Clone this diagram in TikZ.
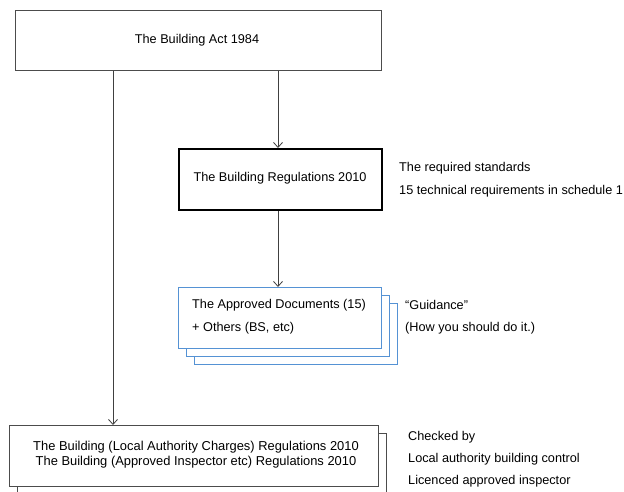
\documentclass[tikz,border=0pt]{standalone}
\usepackage{fontspec}
\setmainfont{Liberation Sans}
\usetikzlibrary{arrows.meta}
\begin{document}
\begin{tikzpicture}[x=1pt,y=-1pt,
  font=\fontsize{12.7}{15}\selectfont,
  box/.style={draw=black!70,line width=0.8pt,fill=white,inner sep=0pt,anchor=north west},
  thickbox/.style={draw=black,line width=2.2pt,fill=white,inner sep=0pt,anchor=north west},
  docbox/.style={draw=cyan!55!blue!70,line width=0.9pt,fill=white,inner sep=0pt,anchor=north west,
    minimum width=203pt,minimum height=61pt},
  note/.style={anchor=west,inner sep=0pt},
  link/.style={draw=black!75,line width=0.8pt,-{Straight Barb[length=5pt,width=9pt]}}]
\clip (0,0) rectangle (624,492);
\fill[white] (0,0) rectangle (624,492);

% Building Act
\node[box,minimum width=366pt,minimum height=60pt] (act) at (15,10) {};
\node at (197,40) {The Building Act 1984};

% Building Regulations
\node[thickbox,minimum width=203pt,minimum height=61pt] (regs) at (178,148) {};
\node at (280,178) {The Building Regulations 2010};
\node[note] (std) at (399,168) {The required standards};
\node[note] (tech) at (399,191) {15 technical requirements in schedule 1};

% Approved Documents (stacked sheets)
\node[docbox] (doc3) at (194,303) {};
\node[docbox] (doc2) at (186,295) {};
\node[docbox] (doc1) at (178,287) {};
\node[note] (ad) at (192,305) {The Approved Documents (15)};
\node[note] (oth) at (192,328) {+ Others (BS, etc)};
\node[note] (guid) at (405,305) {``Guidance''};
\node[note] (how) at (405,328) {(How you should do it.)};

% Procedural regulations
\node[box,minimum width=369pt,minimum height=70pt] (proc2) at (17,433) {};
\node[box,minimum width=369pt,minimum height=61pt] (proc) at (9,425) {};
\node[align=center,font=\fontsize{12.9}{15}\selectfont] (proctxt) at (196,455)
  {The Building (Local Authority Charges) Regulations 2010\\The Building (Approved Inspector etc) Regulations 2010};
\node[note] (chk) at (408,437) {Checked by};
\node[note] (lab) at (408,459) {Local authority building control};
\node[note] (lai) at (408,481) {Licenced approved inspector};

% Connectors
\coordinate (a1) at (act.south west -| 113,0);
\coordinate (a2) at (act.south west -| 278,0);
\draw[link] (a1) -- (a1 |- proc.north);
\draw[link] (a2) -- (a2 |- regs.north);
\draw[link] (regs.south -| a2) -- (a2 |- doc1.north);
\end{tikzpicture}
\end{document}
